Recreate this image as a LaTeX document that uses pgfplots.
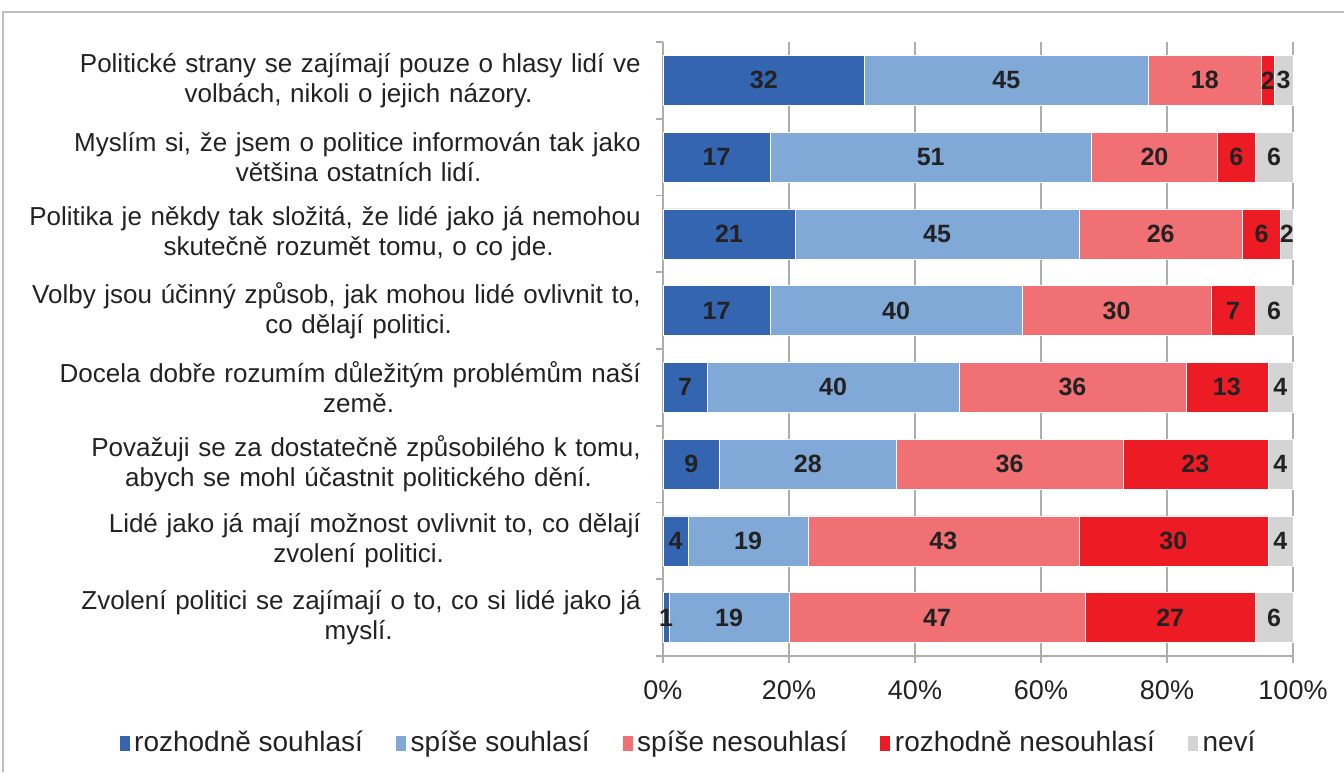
\documentclass[border=0pt]{standalone}
\usepackage{pgfplots}
\pgfplotsset{compat=1.18}
\usepackage{pgfplotstable}
\usepackage{fontspec}
\setmainfont{Liberation Sans}
\definecolor{cA}{HTML}{3465B0}
\definecolor{cB}{HTML}{80A9D8}
\definecolor{cC}{HTML}{F07074}
\definecolor{cD}{HTML}{ED1C24}
\definecolor{cE}{HTML}{D4D4D4}
\definecolor{txt}{HTML}{222222}
\definecolor{gridc}{HTML}{ADADAD}
\definecolor{framec}{HTML}{BFBFBF}
\pgfplotstableread{
idx sd ss sn rn nv
0 32 45 18 2 3
1 17 51 20 6 6
2 21 45 26 6 2
3 17 40 30 7 6
4 7 40 36 13 4
5 9 28 36 23 4
6 4 19 43 30 4
7 1 19 47 27 6
}\datatable
\newcommand{\fl}[2]{\makebox[282pt][r]{#1}\\#2}
\begin{document}
\begin{tikzpicture}
\path[use as bounding box] (0,0) rectangle (672pt,386pt);
\draw[framec, line width=0.8pt] (1.5pt,0) -- (1.5pt,380pt) -- (672pt,380pt);
\begin{axis}[
  at={(331.5pt,58pt)}, anchor=south west,
  scale only axis, width=315pt, height=307pt,
  xbar stacked, bar width=0.65,
  xmin=0, xmax=100, ymin=-0.5, ymax=7.5, y dir=reverse,
  clip=false,
  axis x line*=bottom, axis y line*=left,
  axis line style={gridc, line width=0.8pt},
  xtick={0,20,...,100},
  xticklabel={\pgfmathprintnumber{\tick}\%},
  xmajorgrids, grid style={gridc, line width=0.8pt},
  x tick label style={font=\fontsize{13.5}{15}\selectfont, text=txt, yshift=-5.5pt},
  /pgf/number format/assume math mode=true,
  tick style={gridc, line width=0.8pt},
  tick align=outside, major tick length=3.5pt,
  ytick={-0.5,0.5,...,7.5}, yticklabels={},
  extra y ticks={0,1,2,3,4,5,6,7},
  extra y tick style={major tick length=0pt, tick style={draw=none}},
  extra y tick labels={
    \fl{Politické strany se zajímají pouze o hlasy lidí ve}{volbách, nikoli o jejich názory.},
    \fl{Myslím si, že jsem o politice informován tak jako}{většina ostatních lidí.},
    \fl{Politika je někdy tak složitá, že lidé jako já nemohou}{skutečně rozumět tomu, o co jde.},
    \fl{Volby jsou účinný způsob, jak mohou lidé ovlivnit to,}{co dělají politici.},
    \fl{Docela dobře rozumím důležitým problémům naší}{země.},
    \fl{Považuji se za dostatečně způsobilého k tomu,}{abych se mohl účastnit politického dění.},
    \fl{Lidé jako já mají možnost ovlivnit to, co dělají}{zvolení politici.},
    \fl{Zvolení politici se zajímají o to, co si lidé jako já}{myslí.}},
  y tick label style={align=center, text width=282pt, inner sep=0pt, anchor=east,
    xshift=-11pt, font=\fontsize{13}{15}\selectfont, text=txt},
  nodes near coords={\pgfmathprintnumber{\val}},
  every node near coord/.append style={anchor=center,
    font=\fontsize{12.5}{14}\selectfont\bfseries, text=txt},
  legend style={at={(0.0413,-0.1417)}, anchor=center, draw=none, fill=none,
    legend columns=-1, font=\fontsize{14}{16}\selectfont, text=txt,
    /tikz/every even column/.append style={column sep=14pt}},
  legend cell align=left,
  legend image code/.code={\fill[#1] (0pt,-4pt) rectangle (5.5pt,4pt);},
]
\addplot[fill=cA, draw=white, line width=0.3pt, visualization depends on={\thisrow{sd} \as \val}] table[x=sd, y=idx] {\datatable};
\addlegendentry{rozhodně souhlasí}
\addplot[fill=cB, draw=white, line width=0.3pt, visualization depends on={\thisrow{ss} \as \val}] table[x=ss, y=idx] {\datatable};
\addlegendentry{spíše souhlasí}
\addplot[fill=cC, draw=white, line width=0.3pt, visualization depends on={\thisrow{sn} \as \val}] table[x=sn, y=idx] {\datatable};
\addlegendentry{spíše nesouhlasí}
\addplot[fill=cD, draw=white, line width=0.3pt, visualization depends on={\thisrow{rn} \as \val}] table[x=rn, y=idx] {\datatable};
\addlegendentry{rozhodně nesouhlasí}
\addplot[fill=cE, draw=white, line width=0.3pt, visualization depends on={\thisrow{nv} \as \val}] table[x=nv, y=idx] {\datatable};
\addlegendentry{neví}
\end{axis}
\end{tikzpicture}
\end{document}
